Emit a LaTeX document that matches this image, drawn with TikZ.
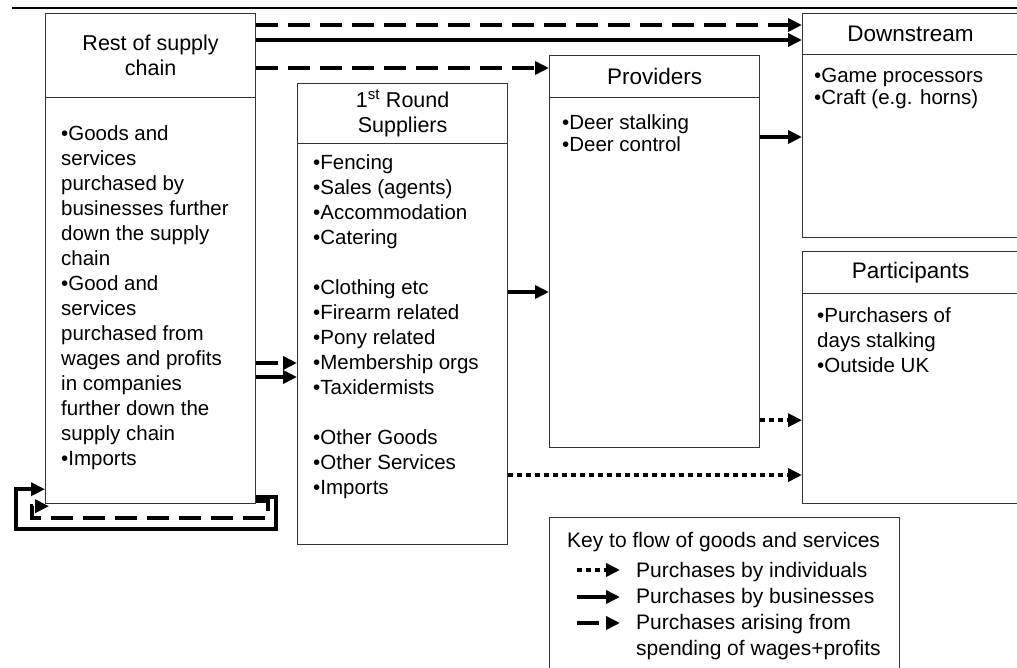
\documentclass[tikz,border=0pt]{standalone}
\usepackage{fontspec}
\setmainfont{Liberation Sans}
\usetikzlibrary{arrows.meta}

\begin{document}
\begin{tikzpicture}[x=1pt,y=-1pt,
  box/.style={draw=black!80, line width=1.2pt, inner sep=0pt, anchor=north west},
  hdr/.style={font=\fontsize{21.5}{25}\selectfont, align=center},
  hdrbig/.style={font=\fontsize{22.5}{27}\selectfont},
  % multi-line text nodes are placed by the baseline of their last line
  items/.style={font=\fontsize{20.5}{25}\selectfont, align=left, inner sep=0pt, anchor=base west},
  tightitems/.style={items, font=\fontsize{20.5}{21.5}\selectfont},
  keyitems/.style={items, font=\fontsize{21}{26}\selectfont},
  flow/.style={line width=4pt, -{Triangle[length=14pt,width=13pt]}},
  biz/.style={flow},
  wage/.style={flow, dash pattern=on 22pt off 10pt},
  indiv/.style={flow, dash pattern=on 5pt off 4pt},
]
\useasboundingbox (0,0) rectangle (1017,668);
\clip (0,0) rectangle (1017,668);

% rule across the top
\draw[line width=2pt] (12,8) -- (1017,8);

% Rest of supply chain
\node[box, hdr, minimum width=210pt, minimum height=84pt] (resthead) at (45,13) {Rest of supply\\chain};
\node[box, minimum width=210pt, minimum height=406pt] (restbody) at (45,97) {};
\node[items] (resttext) at (61,465) {•Goods and\\services\\purchased by\\businesses further\\down the supply\\chain\\•Good and\\services\\purchased from\\wages and profits\\in companies\\further down the\\supply chain\\•Imports};

% 1st round suppliers
\node[box, hdr, minimum width=210pt, minimum height=60pt] (firsthead) at (297,83) {1\textsuperscript{st} Round\\Suppliers};
\node[box, minimum width=210pt, minimum height=401pt] (firstbody) at (297,143) {};
\node[items] (firsttext) at (313,494) {•Fencing\\•Sales (agents)\\•Accommodation\\•Catering\\[25pt]•Clothing etc\\•Firearm related\\•Pony related\\•Membership orgs\\•Taxidermists\\[25pt]•Other Goods\\•Other Services\\•Imports};

% Providers
\node[box, hdrbig, minimum width=210pt, minimum height=42pt] (provhead) at (549,55) {Providers};
\node[box, minimum width=210pt, minimum height=350pt] (provbody) at (549,97) {};
\node[tightitems] (provtext) at (562,151.5) {•Deer stalking\\•Deer control};

% Downstream
\node[box, hdrbig, minimum width=216pt, minimum height=41pt] (dsthead) at (802,13) {Downstream};
\node[box, minimum width=216pt, minimum height=183pt] (dstbody) at (802,54) {};
\node[tightitems] (dsttext) at (814,104.5) {•Game processors\\•Craft (e.g. horns)};

% Participants
\node[box, hdrbig, minimum width=216pt, minimum height=42pt] (parthead) at (802,251) {Participants};
\node[box, minimum width=216pt, minimum height=210pt] (partbody) at (802,293) {};
\node[items] (parttext) at (817,372) {•Purchasers of\\days stalking\\•Outside UK};

% Key
\node[box, minimum width=350pt, minimum height=153pt] (keybox) at (549,517) {};
\node[keyitems] (keytitle) at (567,547) {Key to flow of goods and services};
\node[keyitems] (keytext) at (636,655) {Purchases by individuals\\Purchases by businesses\\Purchases arising from\\spending of wages+profits};
\coordinate (kia) at (577,570); \coordinate (kib) at (620,570);
\coordinate (kba) at (577,597); \coordinate (kbb) at (620,597);
\coordinate (kwa) at (577,623); \coordinate (kwb) at (620,623);
\draw[indiv] (kia) -- (kib);
\draw[biz] (kba) -- (kbb);
\draw[wage] (kwa) -- (kwb);

% flows from the rest of the supply chain
\draw[wage] ([yshift=-12pt]resthead.north east) -- ([yshift=-12pt]resthead.north east -| dsthead.west);
\draw[biz] ([yshift=-27pt]resthead.north east) -- ([yshift=-27pt]resthead.north east -| dsthead.west);
\draw[wage] ([yshift=-55pt]resthead.north east) -- ([yshift=-55pt]resthead.north east -| provhead.west);
\draw[wage] ([yshift=-266pt]restbody.north east) -- ([yshift=-266pt]restbody.north east -| firstbody.west);
\draw[biz] ([yshift=-280pt]restbody.north east) -- ([yshift=-280pt]restbody.north east -| firstbody.west);

% flows between suppliers, providers and customers
\draw[biz] ([yshift=-149pt]firstbody.north east) -- ([yshift=-149pt]firstbody.north east -| provbody.west);
\draw[biz] ([yshift=-40pt]provbody.north east) -- ([yshift=-40pt]provbody.north east -| dstbody.west);
\draw[indiv] ([yshift=28pt]provbody.south east) -- ([yshift=28pt]provbody.south east -| partbody.west);
\draw[indiv] ([yshift=-332pt]firstbody.north east) -- ([yshift=-332pt]firstbody.north east -| partbody.west);

% loops back into the rest of the supply chain
\draw[biz] ([yshift=7pt]restbody.south east) -- ++(20,0) -- ++(0,32) -- ++(-260,0) |- ([yshift=15pt]restbody.south west);
\draw[wage] ([yshift=3pt]restbody.south east) -- ++(12,0) -- ++(0,17) -- ++(-236,0) |- ([shift={(4pt,-2pt)}]restbody.south west);
\end{tikzpicture}
\end{document}
